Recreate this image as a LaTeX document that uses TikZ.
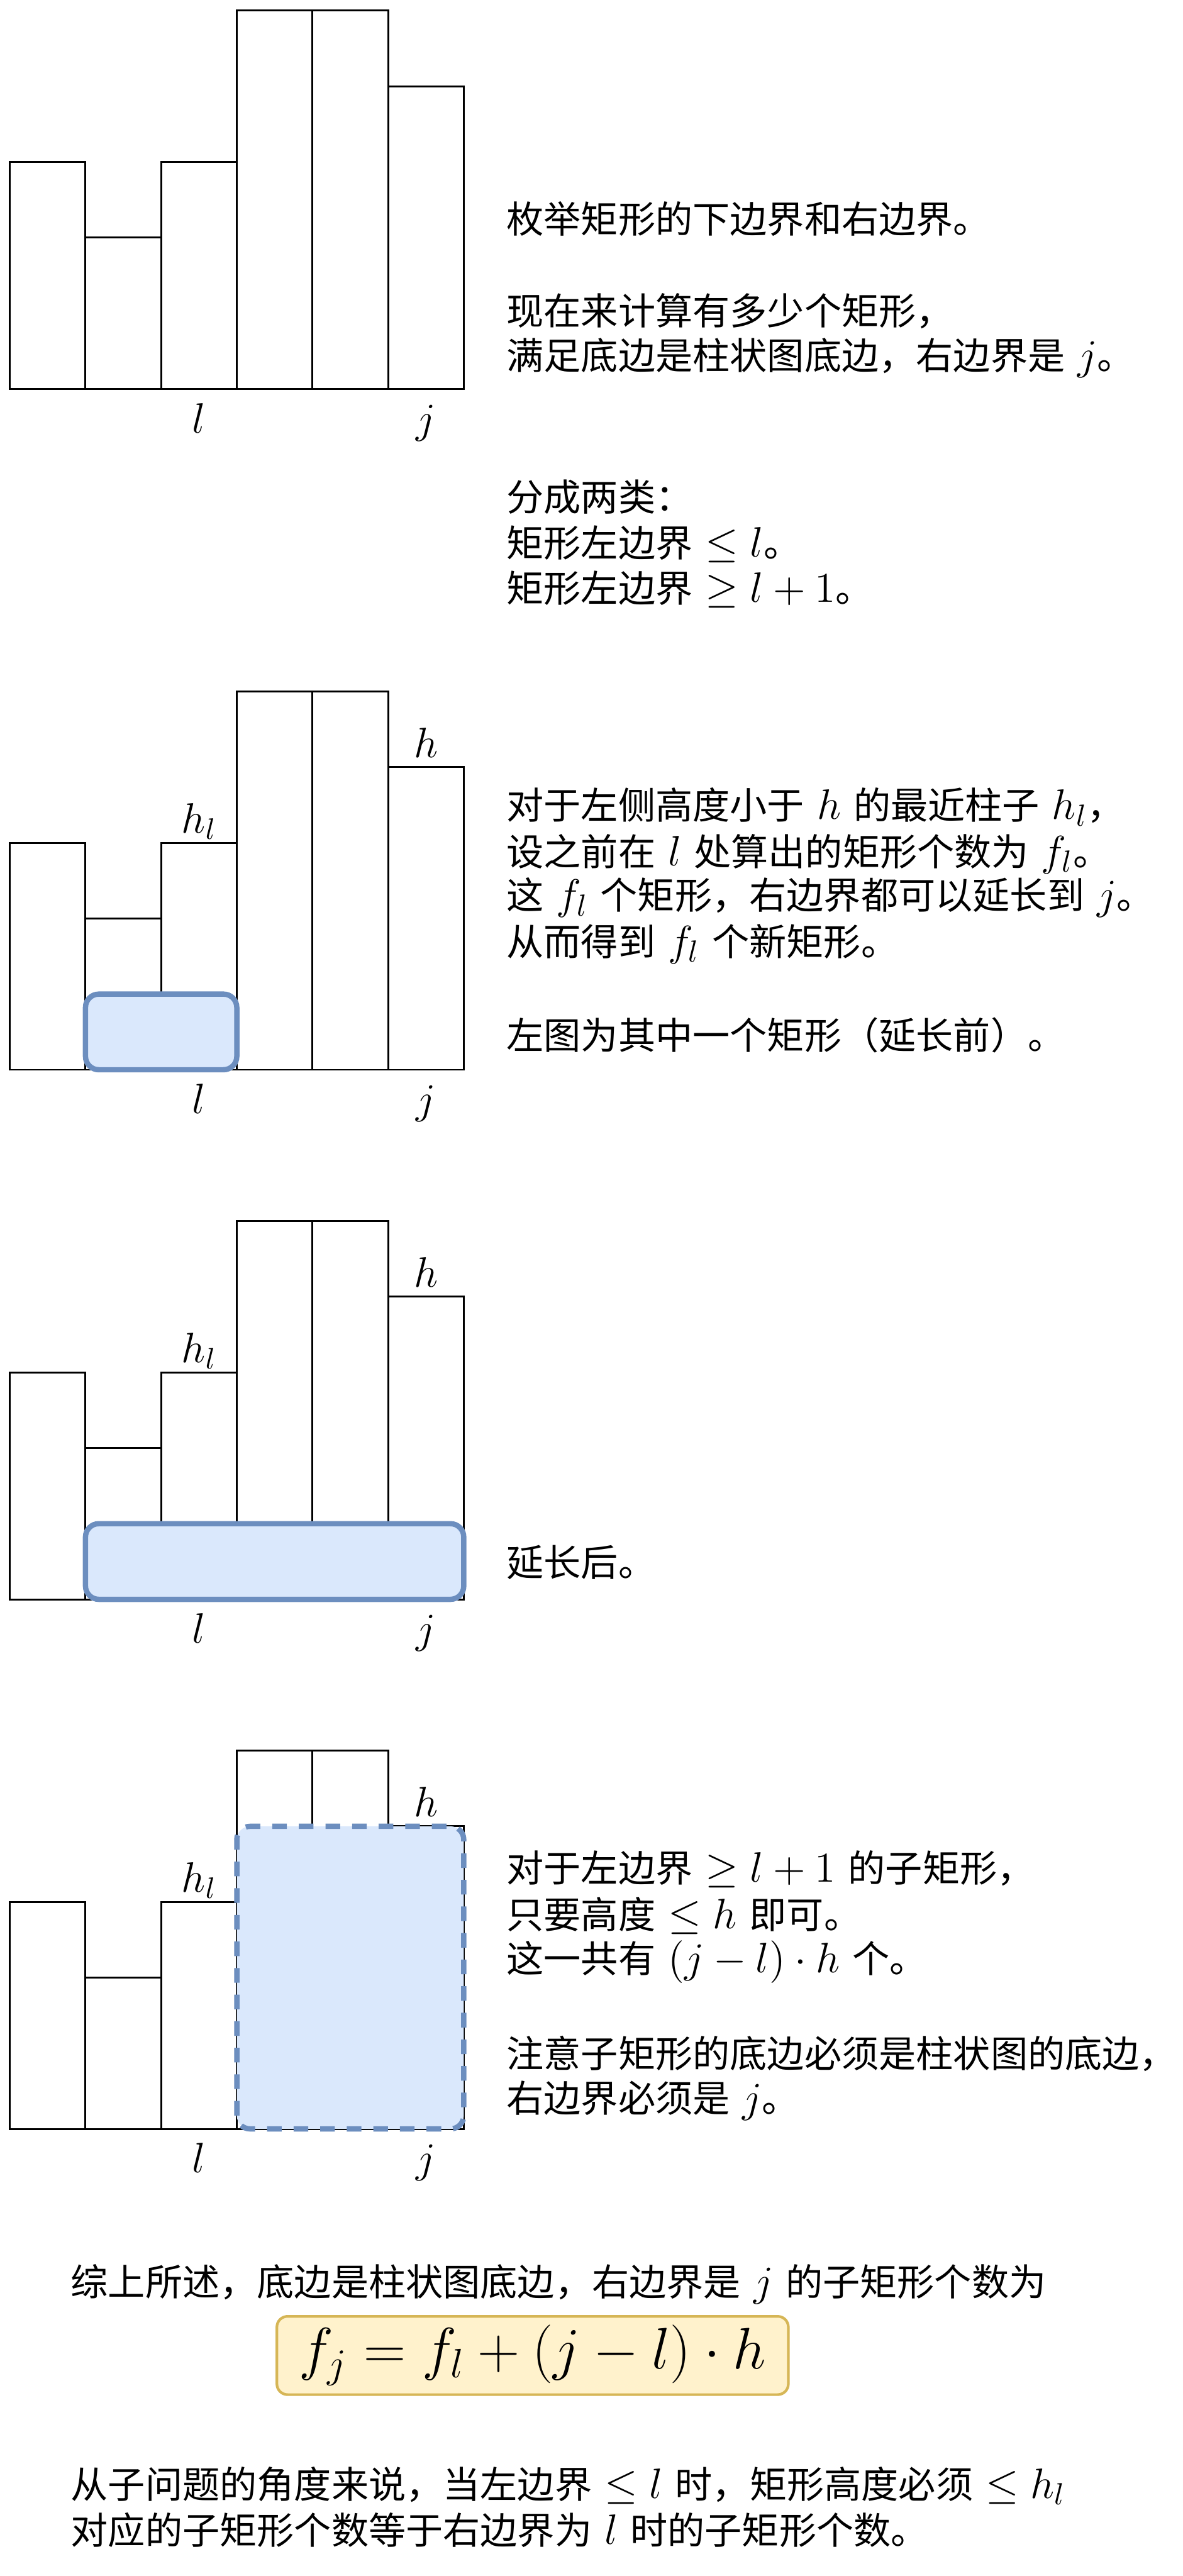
\RequirePackage{fix-cm}
\documentclass[tikz,border=0pt]{standalone}
\usepackage{amsmath, amssymb}
\usepackage{fontspec}
\newfontfamily\cjk{Noto Sans CJK SC}[WordSpace=1.5]
\usetikzlibrary{positioning, calc}
\definecolor{rectblue}{HTML}{DAE8FC}
\definecolor{rectedge}{HTML}{6C8EBF}
\definecolor{boxyellow}{HTML}{FFF2CC}
\definecolor{boxedge}{HTML}{D6B656}
\DeclareMathSizes{14}{16}{11.5}{9}
\newcommand{\notefont}{\cjk\fontsize{14}{17}\selectfont}
\newcommand{\labfont}{\fontsize{16}{19}\selectfont}

\begin{document}
\begin{tikzpicture}[bar/.style={draw, line width=0.7pt, anchor=south west, minimum width=1cm, inner sep=0pt, outer sep=0pt},
  lab/.style={font=\labfont, anchor=base, inner sep=0pt},
  note/.style={font=\notefont, anchor=base west, inner sep=0pt},
  pick/.style={draw=rectedge, fill=rectblue, line width=2pt, rounded corners=5pt},
  fbox/.style={draw=boxedge, fill=boxyellow, line width=1pt, rounded corners=4pt, font=\fontsize{22}{26}\selectfont}]
  \useasboundingbox (0,0) rectangle (15.629,-34.05);
  % four copies of the histogram
  \foreach \p/\y in {1/-5.14, 2/-14.14, 3/-21.14, 4/-28.14}{
    \foreach \h [count=\i] in {3,2,3,5,5,4}
      \node[bar, minimum height=\h cm] (b\p\i) at (0.13+\i-1,\y) {};
  }
  % chosen rectangles
  \draw[pick] (b22.south west) rectangle ([yshift=1cm]b23.south east);
  \draw[pick] (b32.south west) rectangle ([yshift=1cm]b36.south east);
  \draw[pick, dash pattern=on 5.5pt off 4.5pt] (b44.south west) rectangle (b46.north east);
  % labels under and over the bars
  \node[lab] (l1) at ([yshift=-0.58cm]b13.south) {$l$};
  \node[lab] (j1) at ([yshift=-0.58cm]b16.south) {$j$};
  \node[lab] (l2) at ([yshift=-0.58cm]b23.south) {$l$};
  \node[lab] (j2) at ([yshift=-0.58cm]b26.south) {$j$};
  \node[lab] (hl2) at ([yshift=0.13cm]b23.north) {$h_l$};
  \node[lab] (h2) at ([yshift=0.13cm]b26.north) {$h$};
  \node[lab] (l3) at ([yshift=-0.58cm]b33.south) {$l$};
  \node[lab] (j3) at ([yshift=-0.58cm]b36.south) {$j$};
  \node[lab] (hl3) at ([yshift=0.13cm]b33.north) {$h_l$};
  \node[lab] (h3) at ([yshift=0.13cm]b36.north) {$h$};
  \node[lab] (l4) at ([yshift=-0.58cm]b43.south) {$l$};
  \node[lab] (j4) at ([yshift=-0.58cm]b46.south) {$j$};
  \node[lab] (hl4) at ([yshift=0.13cm]b43.north) {$h_l$};
  \node[lab] (h4) at ([yshift=0.13cm]b46.north) {$h$};
  % side notes
  \node[note] (t1) at (6.69,-3.08) {枚举矩形的下边界和右边界。};
  \node[note] (t2) at (6.69,-4.29) {现在来计算有多少个矩形，};
  \node[note] (t3) at (6.69,-4.88) {满足底边是柱状图底边，右边界是 $j$。};
  \node[note] (t4) at (6.69,-6.75) {分成两类：};
  \node[note] (t5) at (6.69,-7.36) {矩形左边界 $\leq l$。};
  \node[note] (t6) at (6.69,-7.96) {矩形左边界 $\geq l+1$。};
  \node[note] (t7) at (6.69,-10.83) {对于左侧高度小于 $h$ 的最近柱子 $h_l$，};
  \node[note] (t8) at (6.69,-11.44) {设之前在 $l$ 处算出的矩形个数为 $f_l$。};
  \node[note] (t9) at (6.69,-12.02) {这 $f_l$ 个矩形，右边界都可以延长到 $j$。};
  \node[note] (t10) at (6.69,-12.63) {从而得到 $f_l$ 个新矩形。};
  \node[note] (t11) at (6.69,-13.87) {左图为其中一个矩形（延长前）。};
  \node[note] (t12) at (6.69,-20.84) {延长后。};
  \node[note] (t13) at (6.69,-24.88) {对于左边界 $\geq l+1$ 的子矩形，};
  \node[note] (t14) at (6.69,-25.49) {只要高度 $\leq h$ 即可。};
  \node[note] (t15) at (6.69,-26.07) {这一共有 $(j-l)\cdot h$ 个。};
  \node[note] (t16) at (6.69,-27.33) {注意子矩形的底边必须是柱状图的底边，};
  \node[note] (t17) at (6.69,-27.92) {右边界必须是 $j$。};
  % summary
  \node[note] (t18) at (0.93,-30.35) {综上所述，底边是柱状图底边，右边界是 $j$ 的子矩形个数为};
  \node[fbox, minimum width=6.76cm, minimum height=1.01cm] (fml) at (7.04,-31.135) {$f_j = f_l + (j-l)\cdot h$};
  \node[note] (t19) at (0.93,-33.02) {从子问题的角度来说，当左边界 $\leq l$ 时，矩形高度必须 $\leq h_l$};
  \node[note] (t20) at (0.93,-33.63) {对应的子矩形个数等于右边界为 $l$ 时的子矩形个数。};
\end{tikzpicture}
\end{document}
